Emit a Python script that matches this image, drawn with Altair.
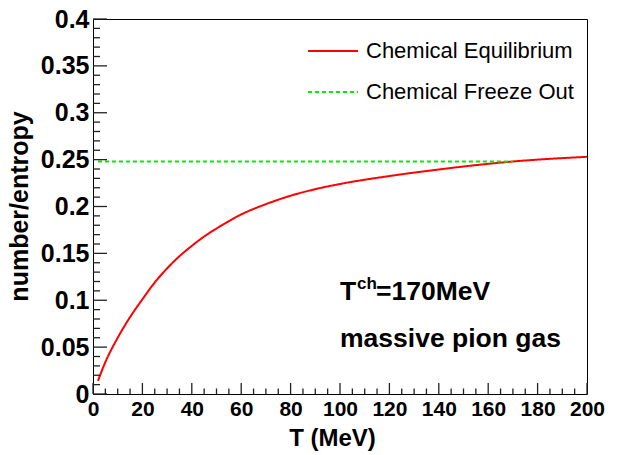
import altair as alt
import pandas as pd

# Equilibrium number/entropy ratio of a massive pion gas vs temperature
T_eq = [2, 5, 10, 15, 20, 25, 30, 35, 40, 45, 50, 60, 70, 80, 90, 100,
        120, 140, 160, 170, 180, 200]
ratio_eq = [0.014, 0.034, 0.060, 0.082, 0.101, 0.119, 0.134, 0.147, 0.158,
            0.168, 0.1765, 0.1915, 0.2025, 0.2115, 0.2185, 0.224, 0.2325,
            0.2395, 0.2455, 0.248, 0.250, 0.253]

# Ratio frozen at the chemical freeze-out temperature
T_fo = [2, 170]
ratio_fo = [0.248, 0.248]

series_names = ["Chemical Equilibrium", "Chemical Freeze Out"]
series_colors = ["#ff0000", "#00ee00"]

x_major = list(range(0, 201, 20))
x_minor = [t for t in range(0, 201, 5) if t % 20]
y_major = [round(i * 0.05, 2) for i in range(9)]
y_minor = [round(i * 0.01, 2) for i in range(41) if i % 5]

curves = pd.concat([
    pd.DataFrame({"T": T_eq, "ratio": ratio_eq, "series": series_names[0]}),
    pd.DataFrame({"T": T_fo, "ratio": ratio_fo, "series": series_names[1]}),
])

W, H = 494, 375
FONT = "Liberation Sans"

xs = alt.Scale(domain=[0, 200], nice=False, zero=False)
ys = alt.Scale(domain=[0, 0.4], nice=False, zero=False)

legend_style = dict(title=None, orient="none", legendX=214, legendY=6,
                    symbolType="stroke", symbolSize=2500, symbolStrokeWidth=2,
                    labelFontSize=22, labelFont=FONT, labelOffset=7, rowPadding=4,
                    padding=0, labelLimit=400)

lines = alt.Chart(curves).mark_line(strokeWidth=2, interpolate="monotone", clip=True).encode(
    x=alt.X("T:Q", scale=xs,
            axis=alt.Axis(title="T (MeV)", values=x_major, format="d", ticks=False,
                          domain=False, grid=False, labelFontSize=21, labelFontWeight="bold",
                          labelPadding=4, labelFlush=False, titleFontSize=24,
                          titleFontWeight="bold", titleX=239, titleY=51,
                          titleBaseline="alphabetic", titleAlign="center")),
    y=alt.Y("ratio:Q", scale=ys,
            axis=alt.Axis(title="number/entropy", values=y_major, format=".2~f", ticks=False,
                          domain=False, grid=False, labelFontSize=25, labelFontWeight="bold",
                          labelPadding=4, labelFlush=False, titleFontSize=25,
                          titleFontWeight="bold", titleX=-66, titleY=187,
                          titleBaseline="alphabetic", titleAlign="center", titleAngle=270)),
    color=alt.Color("series:N",
                    scale=alt.Scale(domain=series_names, range=series_colors),
                    legend=alt.Legend(**legend_style)),
    strokeDash=alt.StrokeDash("series:N",
                              scale=alt.Scale(domain=series_names, range=[[1, 0], [4, 3]]),
                              legend=alt.Legend(**legend_style)),
)

# Inward tick marks in the ROOT style, drawn as tick marks hugging the frame
tick_y_major = pd.DataFrame({"ty": y_major})
tick_y_minor = pd.DataFrame({"ty": y_minor})
tick_x_major = pd.DataFrame({"tx": x_major})
tick_x_minor = pd.DataFrame({"tx": x_minor})

TICK = dict(color="#222222", thickness=1.3, opacity=1)

y_major_ticks = alt.Chart(tick_y_major).mark_tick(orient="horizontal", size=14, **TICK).encode(
    y=alt.Y("ty:Q", scale=ys), x=alt.value(7))
y_minor_ticks = alt.Chart(tick_y_minor).mark_tick(orient="horizontal", size=7, **TICK).encode(
    y=alt.Y("ty:Q", scale=ys), x=alt.value(3.5))
x_major_ticks = alt.Chart(tick_x_major).mark_tick(orient="vertical", size=11, **TICK).encode(
    x=alt.X("tx:Q", scale=xs), y=alt.value(H - 5.5))
x_minor_ticks = alt.Chart(tick_x_minor).mark_tick(orient="vertical", size=5.5, **TICK).encode(
    x=alt.X("tx:Q", scale=xs), y=alt.value(H - 2.75))

# Annotation text
note_base = alt.Chart(pd.DataFrame({"T": [100], "ratio": [0.1]}))
t_sym = note_base.mark_text(text="T", align="left", baseline="alphabetic", fontSize=26.5,
                            fontWeight="bold", font=FONT).encode(
    x=alt.X("T:Q", scale=xs), y=alt.Y("ratio:Q", scale=ys))
t_sup = note_base.mark_text(text="ch", align="left", baseline="alphabetic", fontSize=17,
                            fontWeight="bold", font=FONT, dx=17, dy=-11).encode(
    x=alt.X("T:Q", scale=xs), y=alt.Y("ratio:Q", scale=ys))
t_val = note_base.mark_text(text="=170MeV", align="left", baseline="alphabetic", fontSize=26.5,
                            fontWeight="bold", font=FONT, dx=36).encode(
    x=alt.X("T:Q", scale=xs), y=alt.Y("ratio:Q", scale=ys))
gas = alt.Chart(pd.DataFrame({"T": [100], "ratio": [0.05]})).mark_text(
    text="massive pion gas", align="left", baseline="alphabetic", fontSize=26.5,
    fontWeight="bold", font=FONT).encode(
    x=alt.X("T:Q", scale=xs), y=alt.Y("ratio:Q", scale=ys))

chart = alt.layer(
    lines, y_major_ticks, y_minor_ticks, x_major_ticks, x_minor_ticks,
    t_sym, t_sup, t_val, gas,
).properties(
    width=W, height=H,
    padding={"left": 93, "top": 19, "right": 35, "bottom": 61},
    autosize=alt.AutoSizeParams(type="none"),
    background="white",
).configure_view(
    stroke="black", strokeWidth=1,
).configure_axis(
    labelFont=FONT, titleFont=FONT, labelColor="black", titleColor="black",
).configure_legend(
    labelColor="black",
)

chart.save("out.html", embed_options={"renderer": "svg", "actions": False})
